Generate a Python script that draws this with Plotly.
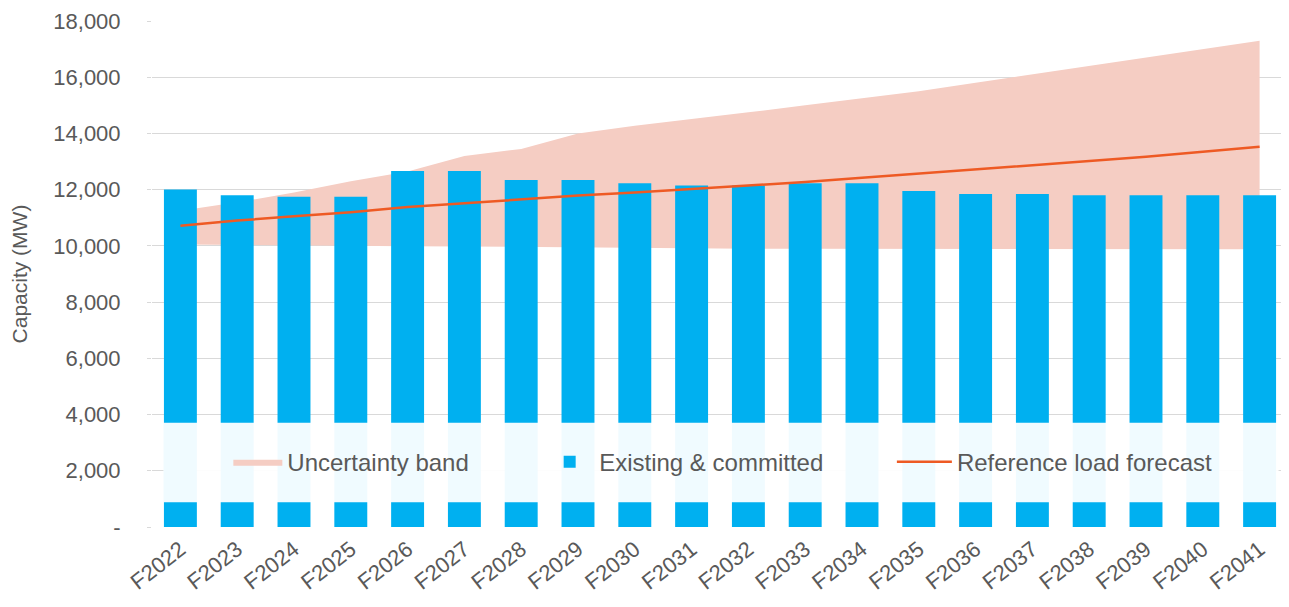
import plotly.graph_objects as go

categories = ["F2022", "F2023", "F2024", "F2025", "F2026", "F2027", "F2028", "F2029", "F2030", "F2031",
              "F2032", "F2033", "F2034", "F2035", "F2036", "F2037", "F2038", "F2039", "F2040", "F2041"]

existing_committed = [12010, 11800, 11750, 11750, 12660, 12660, 12340, 12340, 12230, 12150,
                      12150, 12230, 12230, 11950, 11850, 11850, 11800, 11800, 11800, 11800]

band_lower = [10050, 10030, 10010, 10000, 9990, 9980, 9960, 9940, 9920, 9910,
              9900, 9900, 9900, 9900, 9890, 9880, 9880, 9880, 9880, 9880]

band_upper = [11250, 11550, 11900, 12300, 12650, 13200, 13450, 14000, 14270, 14500,
              14750, 15000, 15250, 15500, 15800, 16100, 16400, 16700, 17000, 17300]

reference_load = [10720, 10900, 11050, 11200, 11380, 11520, 11660, 11790, 11900, 12020,
                  12140, 12270, 12420, 12570, 12720, 12870, 13020, 13170, 13350, 13530]

y_tickvals = [0, 2000, 4000, 6000, 8000, 10000, 12000, 14000, 16000, 18000]
y_ticktext = ["-", "2,000", "4,000", "6,000", "8,000", "10,000", "12,000", "14,000", "16,000", "18,000"]

FONT = "Liberation Sans, Arial, sans-serif"
TEXT = "#595959"
GRID = "#D9D9D9"

fig = go.Figure()

fig.add_trace(go.Scatter(
    x=categories, y=band_lower, mode="lines", line=dict(width=0, color="rgba(0,0,0,0)"),
    showlegend=False, hoverinfo="skip", zorder=0,
))
fig.add_trace(go.Scatter(
    x=categories, y=band_upper, mode="lines", line=dict(width=0, color="rgba(0,0,0,0)"),
    fill="tonexty", fillcolor="#F5CDC3", name="Uncertainty band", legend="legend", zorder=0,
))
fig.add_trace(go.Bar(
    x=categories, y=existing_committed, marker=dict(color="#00B0F0", line=dict(width=0)),
    width=0.58, name="Existing & committed", legend="legend2", zorder=1,
))
fig.add_trace(go.Scatter(
    x=categories, y=reference_load, mode="lines", line=dict(color="#EE5A24", width=2.5),
    name="Reference load forecast", legend="legend3", zorder=2,
))

# semi-opaque white panel behind the legend, spanning the plot
fig.add_shape(type="rect", xref="paper", yref="y", x0=0.010, x1=0.9917, y0=880, y1=3710,
              fillcolor="rgba(255,255,255,0.94)", line=dict(width=0), layer="above")

legend_common = dict(orientation="h", yanchor="middle", y=0.128, xanchor="left",
                     bgcolor="rgba(0,0,0,0)", font=dict(family=FONT, size=24, color=TEXT))
fig.update_layout(
    legend=dict(x=0.0672, itemwidth=49, **legend_common),
    legend2=dict(x=0.3417, itemwidth=49, **legend_common),
    legend3=dict(x=0.6513, itemwidth=55, **legend_common),
)

fig.update_layout(
    width=1289, height=607,
    margin=dict(l=144, r=9, t=13, b=88, autoexpand=False),
    plot_bgcolor="white", paper_bgcolor="white",
    font=dict(family=FONT, color=TEXT),
    bargap=0.42,
    xaxis=dict(
        type="category", showgrid=False, showline=True, linecolor=GRID, linewidth=1,
        tickangle=-38, tickfont=dict(family=FONT, size=22, color=TEXT), ticks="",
        automargin=False, ticklabeloverflow="allow",
    ),
    yaxis=dict(
        range=[0, 18000], tickvals=y_tickvals, ticktext=y_ticktext,
        showgrid=True, gridcolor=GRID, gridwidth=1, zeroline=False,
        ticks="outside", ticklen=4, tickcolor=GRID, ticklabelstandoff=22,
        ticklabeloverflow="allow",
        tickfont=dict(family=FONT, size=22, color=TEXT),
        title=dict(text="Capacity (MW)", font=dict(family=FONT, size=21, color=TEXT), standoff=26),
        automargin=False,
    ),
)

fig.write_html("out.html")
